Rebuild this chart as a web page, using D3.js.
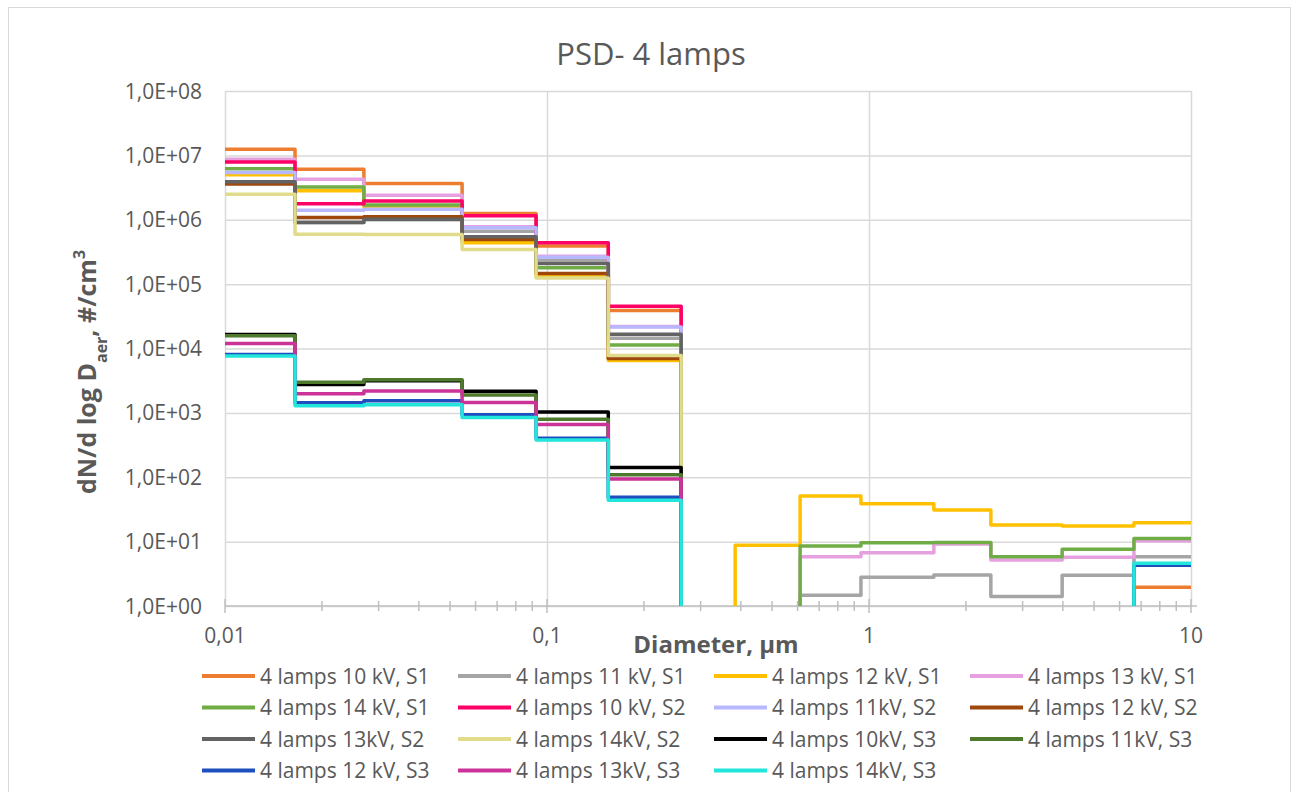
<!DOCTYPE html>
<html>
<head>
<meta charset="utf-8">
<script src="https://cdn.jsdelivr.net/npm/d3@7"></script>
<style>
  body { margin: 0; background: #fff; }
  text { font-family: "Open Sans", sans-serif; fill: #595959; }
</style>
</head>
<body>
<div id="chart-area"></div>
<script>
// bin edges of the impactor stages, µm
var edges = [0.01, 0.0165, 0.027, 0.0545, 0.0925, 0.155, 0.261, 0.384, 0.611, 0.944, 1.59, 2.39, 3.98, 6.65, 10];

// dN/dlogD per bin (0 = nothing measured)
var s1_10kV = [1.25e7, 6.1e6, 3.66e6, 1.25e6, 3.9e5, 3.9e4, 0, 0, 0, 0, 0, 0, 0, 1.95];
var s1_11kV = [3.9e6, 9.1e5, 1.0e6, 6.65e5, 2.36e5, 1.44e4, 0, 0, 1.47, 2.79, 3.03, 1.4, 3.0, 5.83];
var s1_12kV = [5.0e6, 2.81e6, 1.6e6, 4.4e5, 1.35e5, 6.5e3, 0, 8.75, 51, 38.8, 31, 18.1, 17.5, 19.7];
var s1_13kV = [8.7e6, 4.27e6, 2.41e6, 7.8e5, 2.7e5, 2.2e4, 0, 0, 5.83, 6.73, 9.2, 5.18, 5.7, 10.3];
var s1_14kV = [6.2e6, 3.24e6, 1.69e6, 5.2e5, 1.79e5, 1.13e4, 0, 0, 8.55, 9.6, 9.7, 5.83, 7.6, 11.2];
var s2_10kV = [7.9e6, 1.77e6, 1.95e6, 1.15e6, 4.4e5, 4.55e4, 0, 0, 0, 0, 0, 0, 0, 0];
var s2_11kV = [5.4e6, 1.41e6, 1.46e6, 7.5e5, 2.62e5, 2.15e4, 0, 0, 0, 0, 0, 0, 0, 0];
var s2_12kV = [3.6e6, 1.08e6, 1.11e6, 4.95e5, 1.46e5, 7.0e3, 0, 0, 0, 0, 0, 0, 0, 0];
var s2_13kV = [3.9e6, 9.07e5, 1.02e6, 5.43e5, 2.1e5, 1.67e4, 0, 0, 0, 0, 0, 0, 0, 0];
var s2_14kV = [2.5e6, 5.97e5, 5.9e5, 3.45e5, 1.25e5, 7.8e3, 0, 0, 0, 0, 0, 0, 0, 0];
var s3_10kV = [16500, 2770, 3150, 2160, 1030, 142, 0, 0, 0, 0, 0, 0, 0, 0];
var s3_11kV = [15800, 3000, 3270, 1890, 793, 109, 0, 0, 0, 0, 0, 0, 0, 0];
var s3_12kV = [8100, 1435, 1540, 935, 402, 49, 0, 0, 0, 0, 0, 0, 0, 4.3];
var s3_13kV = [12000, 1980, 2180, 1455, 662, 94, 0, 0, 0, 0, 0, 0, 0, 0];
var s3_14kV = [7620, 1290, 1335, 851, 378, 43.8, 0, 0, 0, 0, 0, 0, 0, 4.6];

var seriesNames = ["4 lamps 10 kV, S1", "4 lamps 11 kV, S1", "4 lamps 12 kV, S1", "4 lamps 13 kV, S1",
  "4 lamps 14 kV, S1", "4 lamps 10 kV, S2", "4 lamps 11kV, S2", "4 lamps 12 kV, S2",
  "4 lamps 13kV, S2", "4 lamps 14kV, S2", "4 lamps 10kV, S3", "4 lamps 11kV, S3",
  "4 lamps 12 kV, S3", "4 lamps 13kV, S3", "4 lamps 14kV, S3"];
var seriesValues = [s1_10kV, s1_11kV, s1_12kV, s1_13kV, s1_14kV, s2_10kV, s2_11kV, s2_12kV,
  s2_13kV, s2_14kV, s3_10kV, s3_11kV, s3_12kV, s3_13kV, s3_14kV];
var colors = ["#ED7D31", "#A5A5A5", "#FFC000", "#E6A0E0", "#70AD47", "#FF0066", "#B8B8FF", "#9E480E",
  "#636363", "#E0DC8C", "#000000", "#4F7A2D", "#1F4EBF", "#CC3399", "#22E5DB"];

var xTickValues = [0.01, 0.1, 1, 10];
var xTickLabels = ["0,01", "0,1", "1", "10"];
var yTickValues = [1, 1e1, 1e2, 1e3, 1e4, 1e5, 1e6, 1e7, 1e8];
var yTickLabels = ["1,0E+00", "1,0E+01", "1,0E+02", "1,0E+03", "1,0E+04", "1,0E+05", "1,0E+06", "1,0E+07", "1,0E+08"];

var W = 1299, H = 792;
var margin = { left: 225, top: 91 };
var width = 966, height = 515;

var svg = d3.select("#chart-area")
  .append("svg")
  .attr("width", W)
  .attr("height", H);

svg.append("rect")
  .attr("x", 8.5).attr("y", 7.5)
  .attr("width", 1282).attr("height", 800)
  .attr("fill", "#fff")
  .attr("stroke", "#D9D9D9");

var x = d3.scaleLog().domain([0.01, 10]).range([0, width]);
var y = d3.scaleLog().domain([1, 1e8]).range([height, 0]);

var g = svg.append("g").attr("transform", "translate(" + margin.left + "," + margin.top + ")");

// gridlines
g.append("g")
  .call(d3.axisLeft(y).tickValues(yTickValues).tickSize(-width).tickFormat(""))
  .call(function(s) {
    s.select(".domain").remove();
    s.selectAll("line").attr("stroke", "#D9D9D9").attr("stroke-width", 1.5);
  });
g.append("g")
  .call(d3.axisBottom(x).tickValues(xTickValues).tickSize(height).tickFormat(""))
  .call(function(s) {
    s.select(".domain").remove();
    s.selectAll("line").attr("stroke", "#D9D9D9").attr("stroke-width", 1.5);
  });

// x axis line with minor ticks
var minorX = [];
[0.01, 0.1, 1].forEach(function(d) {
  for (var k = 2; k <= 9; k++) minorX.push(d * k);
});
var xAxisG = g.append("g").attr("transform", "translate(0," + height + ")");
xAxisG.append("line")
  .attr("x1", 0).attr("x2", width + 6)
  .attr("stroke", "#BFBFBF").attr("stroke-width", 1.5);
xAxisG.selectAll(".minor")
  .data(minorX)
  .enter().append("line")
  .attr("x1", function(d) { return x(d); })
  .attr("x2", function(d) { return x(d); })
  .attr("y1", -5).attr("y2", 5)
  .attr("stroke", "#BFBFBF").attr("stroke-width", 1.5);
xAxisG.selectAll(".major")
  .data(xTickValues)
  .enter().append("line")
  .attr("x1", function(d) { return x(d); })
  .attr("x2", function(d) { return x(d); })
  .attr("y1", -7).attr("y2", 7)
  .attr("stroke", "#BFBFBF").attr("stroke-width", 1.5);

xAxisG.selectAll(".xlab")
  .data(xTickValues)
  .enter().append("text")
  .attr("x", function(d) { return x(d); })
  .attr("y", 37)
  .attr("text-anchor", "middle")
  .style("font-size", "21px")
  .text(function(d, i) { return xTickLabels[i]; });

g.selectAll(".ylab")
  .data(yTickValues)
  .enter().append("text")
  .attr("x", -23)
  .attr("y", function(d) { return y(d); })
  .attr("dy", "0.36em")
  .attr("text-anchor", "end")
  .style("font-size", "21px")
  .text(function(d, i) { return yTickLabels[i]; });

// step lines
svg.append("clipPath").attr("id", "plotclip")
  .append("rect").attr("x", -2).attr("y", -2).attr("width", width + 4).attr("height", height + 4);

function segments(vals) {
  var segs = [], cur = null;
  vals.forEach(function(v, i) {
    if (v > 0) {
      if (!cur) {
        cur = [];
        if (i > 0) cur.push([edges[i], 1]);
        segs.push(cur);
      }
      cur.push([edges[i], v], [edges[i + 1], v]);
    } else if (cur) {
      cur.push([edges[i], 1]);
      cur = null;
    }
  });
  return segs;
}

var line = d3.line()
  .x(function(d) { return x(d[0]); })
  .y(function(d) { return y(d[1]); });

var lines = g.append("g").attr("clip-path", "url(#plotclip)");
seriesValues.forEach(function(vals, i) {
  lines.selectAll(".s" + i)
    .data(segments(vals))
    .enter().append("path")
    .attr("d", line)
    .attr("fill", "none")
    .attr("stroke", colors[i])
    .attr("stroke-width", 3.5)
    .attr("stroke-linejoin", "round");
});

// titles
svg.append("text")
  .attr("x", 651).attr("y", 65)
  .attr("text-anchor", "middle")
  .style("font-size", "31px")
  .text("PSD- 4 lamps");

svg.append("text")
  .attr("x", 716).attr("y", 653)
  .attr("text-anchor", "middle")
  .style("font-size", "24px")
  .style("font-weight", "bold")
  .text("Diameter, µm");

var yt = svg.append("text")
  .attr("transform", "translate(96,372) rotate(-90)")
  .attr("text-anchor", "middle")
  .style("font-size", "25px")
  .style("font-weight", "bold");
yt.append("tspan").text("dN/d log D");
yt.append("tspan").attr("baseline-shift", "sub").style("font-size", "16px").text("aer");
yt.append("tspan").text(", #/cm");
yt.append("tspan").attr("baseline-shift", "super").style("font-size", "16px").text("3");

// legend
var legend = svg.append("g");
seriesNames.forEach(function(name, i) {
  var col = i % 4, row = Math.floor(i / 4);
  var lx = 202 + col * 256, ly = 676 + row * 31.5;
  legend.append("line")
    .attr("x1", lx).attr("x2", lx + 53)
    .attr("y1", ly).attr("y2", ly)
    .attr("stroke", colors[i])
    .attr("stroke-width", 4);
  legend.append("text")
    .attr("x", lx + 58).attr("y", ly)
    .attr("dy", "0.36em")
    .style("font-size", "21px")
    .text(name);
});
</script>
</body>
</html>
